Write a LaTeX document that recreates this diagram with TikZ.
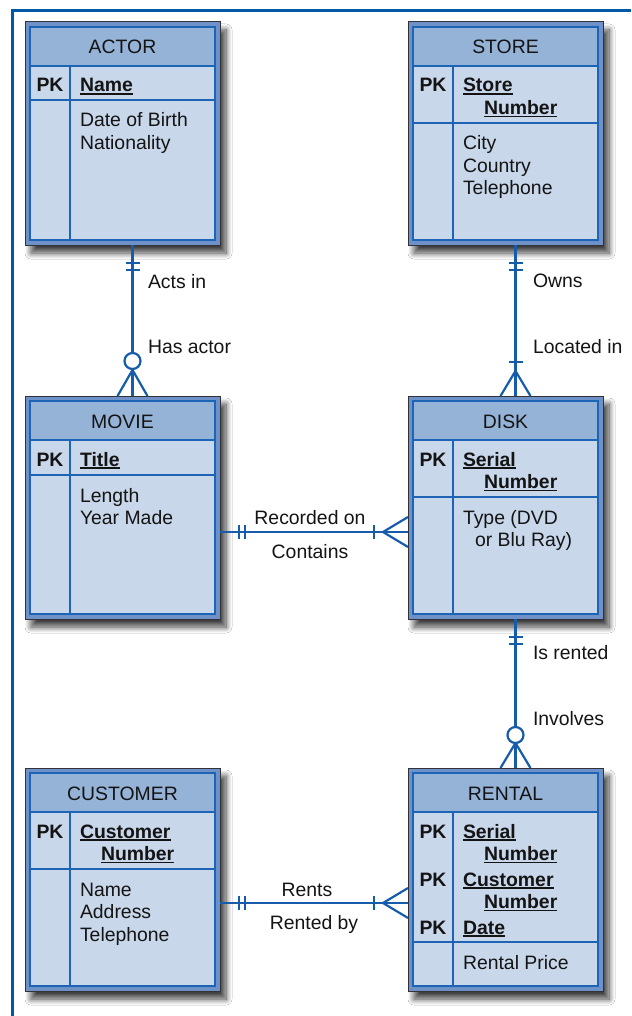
\documentclass[tikz,border=0pt]{standalone}
\usepackage{fontspec}
\setmainfont{Liberation Sans}
\usetikzlibrary{calc,shadows.blur}

\definecolor{frameblue}{RGB}{0,88,166}
\definecolor{linkblue}{RGB}{22,92,170}
\definecolor{ruleblue}{RGB}{30,100,182}
\definecolor{headfill}{RGB}{149,178,215}
\definecolor{bodyfill}{RGB}{200,215,234}
\definecolor{bevel}{RGB}{110,146,200}
\definecolor{edgegrey}{RGB}{50,50,55}
\definecolor{ink}{RGB}{20,20,20}

% stacked lines of a cell, baseline on the first line
\newcommand\lines[1]{\begin{tabular}[t]{@{}l@{}}#1\end{tabular}}
% bold, underlined key field
\newcommand\keyul[1]{\leavevmode\setbox0\hbox{\bfseries #1}\rlap{\rule[-2.6pt]{\wd0}{1.4pt}}\box0}
\newcommand\indentline{\hspace*{21pt}}

\tikzset{
  entity/.style={draw=edgegrey, line width=1pt, fill=bevel,
    minimum width=195pt, minimum height=223pt, inner sep=0pt, outer sep=0pt,
    anchor=north west,
    blur shadow={shadow xshift=6pt, shadow yshift=-8pt,
      shadow blur radius=6pt, shadow blur steps=12, shadow opacity=75}},
  sep/.style={draw=ruleblue, line width=1.3pt},
  conn/.style={draw=linkblue, line width=2.2pt},
  txt/.style={inner sep=0pt, outer sep=0pt, text=ink,
    font=\fontsize{19.4}{22.5}\selectfont},
}

% #1 name, #2 left, #3 top, #4 title, #5 key column, #6 key fields,
% #7 height of the key row, #8 attributes
\newcommand\ertable[8]{%
  \node[entity] (#1) at (#2,#3) {};
  \fill[headfill] (#2+5,#3+5) rectangle (#2+190,#3+44);
  \fill[bodyfill] (#2+5,#3+44) rectangle (#2+190,#3+218);
  \draw[sep] (#2+5,#3+44) -- (#2+190,#3+44);
  \draw[sep] (#2+5,#3+44+#7) -- (#2+190,#3+44+#7);
  \draw[sep] (#2+45,#3+44) -- (#2+45,#3+218);
  \draw[sep] (#2+5,#3+5) rectangle (#2+190,#3+218);
  \node[txt, anchor=base] (#1-title) at (#2+97.5,#3+32) {#4};
  \node[txt, anchor=base] (#1-pk) at (#2+25,#3+70) {\lines{#5}};
  \node[txt, anchor=base west] (#1-key) at (#2+55,#3+70) {\lines{#6}};
  \node[txt, anchor=base west] (#1-attr) at (#2+55,#3+71+#7) {\lines{#8}};
}

\begin{document}
\begin{tikzpicture}[x=1pt,y=-1pt]
\useasboundingbox (0,0) rectangle (631,1016);
\fill[white] (0,0) rectangle (631,1016);

% page frame
\draw[frameblue, line width=3.5pt] (11,10.5) -- (631,10.5);
\draw[frameblue, line width=3pt] (12.8,9) -- (12.8,1016);

% entities
\ertable{actor}{25}{22}{ACTOR}{\textbf{PK}}{\keyul{Name}}{34}{Date of Birth\\Nationality}
\ertable{store}{408}{22}{STORE}{\textbf{PK}}{\keyul{Store}\\\indentline\keyul{Number}}{57}{City\\Country\\Telephone}
\ertable{movie}{25}{396}{MOVIE}{\textbf{PK}}{\keyul{Title}}{35}{Length\\Year Made}
\ertable{disk}{408}{396}{DISK}{\textbf{PK}}{\keyul{Serial}\\\indentline\keyul{Number}}{57}{Type (DVD\\\hspace*{12pt}or Blu Ray)}
\ertable{customer}{25}{768}{CUSTOMER}{\textbf{PK}}{\keyul{Customer}\\\indentline\keyul{Number}}{57}{Name\\Address\\Telephone}
\ertable{rental}{408}{768}{RENTAL}{\textbf{PK}\\[25.5pt]\textbf{PK}\\[25.5pt]\textbf{PK}}{\keyul{Serial}\\\indentline\keyul{Number}\\[3pt]\keyul{Customer}\\\indentline\keyul{Number}\\[3pt]\keyul{Date}}{130}{Rental Price}

% ACTOR -- MOVIE : one and only one / zero or many
\coordinate (am-a) at ($(actor.south)+(10,0)$);
\coordinate (am-b) at ($(movie.north)+(10,0)$);
\draw[conn] (am-a) -- (am-b);
\draw[conn] ($(am-a)+(-7,18)$) -- ++(14,0);
\draw[conn] ($(am-a)+(-7,25)$) -- ++(14,0);
\draw[conn] ($(am-b)+(-15,0)$) -- ($(am-b)+(0,-26)$) -- ($(am-b)+(15,0)$);
\draw[conn, fill=white] ($(am-b)+(0,-35)$) circle[radius=8pt];

% STORE -- DISK : one and only one / one or many
\coordinate (sd-a) at ($(store.south)+(10,0)$);
\coordinate (sd-b) at ($(disk.north)+(10,0)$);
\draw[conn] (sd-a) -- (sd-b);
\draw[conn] ($(sd-a)+(-7,18)$) -- ++(14,0);
\draw[conn] ($(sd-a)+(-7,25)$) -- ++(14,0);
\draw[conn] ($(sd-b)+(-7,-34)$) -- ++(14,0);
\draw[conn] ($(sd-b)+(-15,0)$) -- ($(sd-b)+(0,-25)$) -- ($(sd-b)+(15,0)$);

% DISK -- RENTAL : one and only one / zero or many
\coordinate (dr-a) at ($(disk.south)+(10,0)$);
\coordinate (dr-b) at ($(rental.north)+(10,0)$);
\draw[conn] (dr-a) -- (dr-b);
\draw[conn] ($(dr-a)+(-7,18)$) -- ++(14,0);
\draw[conn] ($(dr-a)+(-7,25)$) -- ++(14,0);
\draw[conn] ($(dr-b)+(-15,0)$) -- ($(dr-b)+(0,-25)$) -- ($(dr-b)+(15,0)$);
\draw[conn, fill=white] ($(dr-b)+(0,-33)$) circle[radius=8pt];

% MOVIE -- DISK : one and only one / one or many
\coordinate (md-a) at ($(movie.east)+(0,24.5)$);
\coordinate (md-b) at ($(disk.west)+(0,24.5)$);
\draw[conn] (md-a) -- (md-b);
\draw[conn] ($(md-a)+(19,-7)$) -- ++(0,14);
\draw[conn] ($(md-a)+(25,-7)$) -- ++(0,14);
\draw[conn] ($(md-b)+(-34,-7)$) -- ++(0,14);
\draw[conn] ($(md-b)+(0,-15)$) -- ($(md-b)+(-25,0)$) -- ($(md-b)+(0,15)$);

% CUSTOMER -- RENTAL : one and only one / one or many
\coordinate (cr-a) at ($(customer.east)+(0,23.5)$);
\coordinate (cr-b) at ($(rental.west)+(0,23.5)$);
\draw[conn] (cr-a) -- (cr-b);
\draw[conn] ($(cr-a)+(19,-7)$) -- ++(0,14);
\draw[conn] ($(cr-a)+(25,-7)$) -- ++(0,14);
\draw[conn] ($(cr-b)+(-34,-7)$) -- ++(0,14);
\draw[conn] ($(cr-b)+(0,-15)$) -- ($(cr-b)+(-25,0)$) -- ($(cr-b)+(0,15)$);

% relationship labels
\node[txt, anchor=base west] (l-actsin) at (148,288) {Acts in};
\node[txt, anchor=base west] (l-hasactor) at (148,353) {Has actor};
\node[txt, anchor=base west] (l-owns) at (533,287) {Owns};
\node[txt, anchor=base west] (l-locatedin) at (533,353) {Located in};
\node[txt, anchor=base west] (l-isrented) at (533,659) {Is rented};
\node[txt, anchor=base west] (l-involves) at (533,725) {Involves};
\node[txt, anchor=base] (l-recorded) at (310,524) {Recorded on};
\node[txt, anchor=base] (l-contains) at (310,558) {Contains};
\node[txt, anchor=base] (l-rents) at (307,896) {Rents};
\node[txt, anchor=base] (l-rentedby) at (314,929) {Rented by};
\end{tikzpicture}
\end{document}
